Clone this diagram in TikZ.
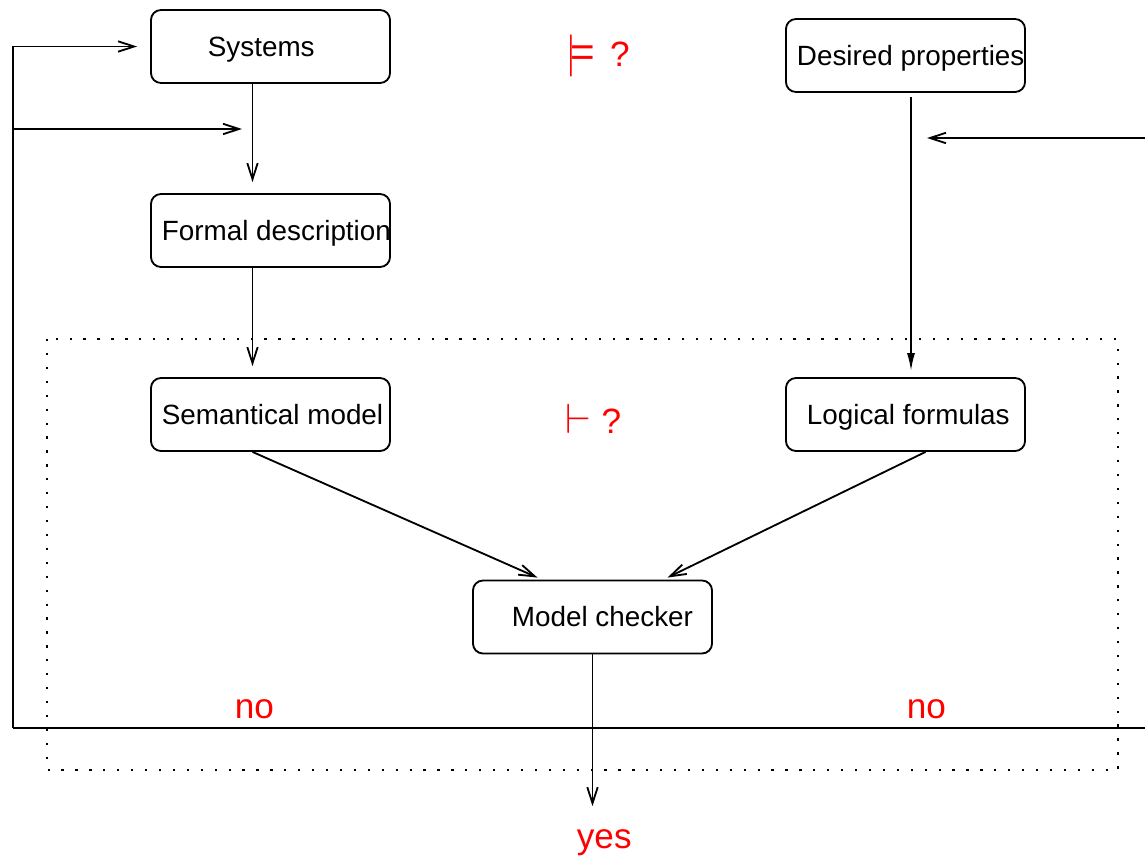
\documentclass[tikz,border=0pt]{standalone}
\usepackage{fix-cm}
\usepackage{amsmath}
\usepackage{amssymb}
\usepackage{fontspec}
\setmainfont{Liberation Sans}
\usetikzlibrary{arrows.meta,calc}

\tikzset{
  box/.style={draw,rounded corners=0.25cm,minimum width=5.975cm,minimum height=1.825cm,inner sep=0pt},
  txt/.style={anchor=base west,inner sep=0pt,font=\fontsize{19.8}{24}\selectfont},
  redtxt/.style={anchor=base west,inner sep=0pt,text=red,font=\fontsize{25}{30}\selectfont},
  open/.style={-{Straight Barb[length=0.4cm,width=0.26cm]}},
  filled/.style={-{Latex[length=0.45cm,width=0.2cm]}},
  dotbox/.style={dash pattern=on 1.6pt off 8.3pt},
}

\begin{document}
\begin{tikzpicture}[x=0.025cm,y=-0.025cm,line width=1.3pt]
    \useasboundingbox (0,0) rectangle (1145,856);
    % boxes
    \node[box] (systems) at (270.5,46.5) {};
    \node[box] (formal) at (270.5,230.5) {};
    \node[box] (semantic) at (270.5,414.5) {};
    \node[box] (desired) at (905.5,55.5) {};
    \node[box] (logical) at (905.5,414.5) {};
    \node[box] (checker) at (592.5,617) {};
    \node[txt] (systemst) at (207,56) {Systems};
    \node[txt] (formalt) at (161,240) {Formal description};
    \node[txt] (semantict) at (161,424) {Semantical model};
    \node[txt] (desiredt) at (796,65) {Desired properties};
    \node[txt] (logicalt) at (806,424) {Logical formulas};
    \node[txt] (checkert) at (511,626) {Model checker};
    % red labels
    \node[redtxt] (models) at (565,66) {{\fontsize{30}{30}\selectfont$\models$}\hspace{0.42em}?};
    \node[redtxt] (proves) at (565,433) {{\fontsize{30}{30}\selectfont$\vdash$}\hspace{0.28em}?};
    \node[redtxt] (noleft) at (234,718) {no};
    \node[redtxt] (noright) at (906,718) {no};
    \node[redtxt] (yes) at (576,848) {yes};
    \draw[dotbox] (47,339) rectangle (1118,770);
    % arrows
    \draw[open] ($(systems.south)+(-18,0)$) -- ($(formal.north)+(-18,-11)$);
    \draw[open] ($(formal.south)+(-18,0)$) -- ($(semantic.north)+(-18,-11)$);
    \draw[filled] ($(desired.south)+(5.5,4)$) -- ($(logical.north)+(5.5,-6)$);
    \draw[open] ($(semantic.south)+(-18,0)$) -- ($(checker.north)+(-55,-2)$);
    \draw[open] ($(logical.south)+(20,0)$) -- ($(checker.north)+(75,-2)$);
    \draw[open,shorten >=0.55cm] (checker.south) -- (checker.south |- yes.north);
    % feedback loop
    \coordinate (loopL) at (13,728);
    \coordinate (loopR) at (1160,728);
    \coordinate (branch) at (13,129);
    \coordinate (formalin) at (242,129);
    \coordinate (desiredin) at (927,138);
    \draw (loopL) -- (loopR);
    \draw[open] (loopL) |- ($(systems.west)+(-13,0)$);
    \draw[open] (branch) -- (formalin);
    \draw[open] (loopR) |- (desiredin);
\end{tikzpicture}
\end{document}
